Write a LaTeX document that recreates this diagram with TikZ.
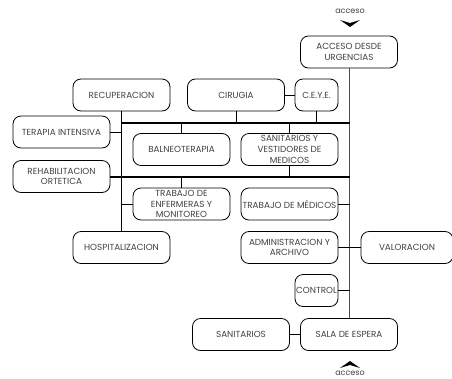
\documentclass[tikz,border=0pt]{standalone}
\usepackage{fontspec}
\setmainfont{Poppins}
\usepackage{tikz}

\tikzset{
    caja/.style={draw, rounded corners=8pt, minimum width=97pt, minimum height=32pt,
        align=center, inner sep=0pt, text=black!75,
        font=\fontsize{8.8}{10.8}\selectfont, line width=0.8pt},
    cajita/.style={caja, minimum width=43pt},
    fina/.style={line width=0.6pt},
    gruesa/.style={line width=1.2pt},
}

\begin{document}
\begin{tikzpicture}[x=1pt,y=-1pt]
        \useasboundingbox (0,0) rectangle (452,378);

        % 画出各个区域
        \node[caja] (urg) at (349,52) {ACCESO DESDE\\URGENCIAS};
        \node[caja] (recup) at (121.5,95) {RECUPERACION};
        \node[caja] (cirugia) at (236,95) {CIRUGIA};
        \node[cajita] (ceye) at (316.5,95) {C.E.Y.E.};
        \node[caja] (terapia) at (61.5,132) {TERAPIA INTENSIVA};
        \node[caja] (balneo) at (181.5,149.5) {BALNEOTERAPIA};
        \node[caja] (vestidores) at (289.5,149.5) {SANITARIOS Y\\VESTIDORES DE\\MEDICOS};
        \node[caja] (rehab) at (61.5,176.5) {REHABILITACION\\ORTETICA};
        \node[caja] (enfermeras) at (181.5,204) {TRABAJO DE\\ENFERMERAS Y\\MONITOREO};
        \node[caja] (medicos) at (289.5,204) {TRABAJO DE MÉDICOS};
        \node[caja] (hosp) at (121.5,247.5) {HOSPITALIZACION};
        \node[caja] (admin) at (289.5,247.5) {ADMINISTRACION Y\\ARCHIVO};
        \node[caja, minimum width=92pt] (valor) at (407,247.5) {VALORACION};
        \node[cajita] (control) at (316.5,290.5) {CONTROL};
        \node[caja] (sanit) at (241,334.5) {SANITARIOS};
        \node[caja] (sala) at (349,334.5) {SALA DE ESPERA};

        % 入口
        \node[text=black!75, font=\fontsize{8}{9}\selectfont] (accArriba) at (350,11) {acceso};
        \node[text=black!75, font=\fontsize{8}{9}\selectfont] (accAbajo) at (350,373) {acceso};
        \coordinate (flechaArriba) at (350,27);
        \coordinate (flechaAbajo) at (350,361);
        \fill (flechaArriba) -- ++(-10,-7) -- ++(10,3) -- ++(10,-3) -- cycle;
        \fill (flechaAbajo) -- ++(-10,7) -- ++(10,-3) -- ++(10,3) -- cycle;

        % 主通道
        \coordinate (b1) at (350,123);
        \coordinate (b2) at (350,177);
        \draw[fina, black!70] (urg.south) -- (sala.north);
        \draw[gruesa] (recup.south) -- (hosp.north);
        \draw[gruesa] (recup.south |- b1) -- (b1);
        \draw[gruesa] (rehab.east |- b2) -- (b2);

        % 连接线
        \draw[fina] (cirugia.south) -- (cirugia.south |- b1);
        \draw[fina] (ceye.south) -- (ceye.south |- b1);
        \draw[fina] (cirugia.east) -- (ceye.west);
        \draw[fina] (terapia.east) -- (recup.south |- terapia.east);
        \draw[fina] (balneo.north |- b1) -- (balneo.north);
        \draw[fina] (vestidores.north |- b1) -- (vestidores.north);
        \draw[fina] (vestidores.south) -- (vestidores.south |- b2);
        \draw[fina] (enfermeras.north |- b2) -- (enfermeras.north);
        \draw[fina] (enfermeras.west) -- (recup.south |- enfermeras.west);
        \draw[fina] (medicos.east) -- (b1 |- medicos.east);
        \draw[fina] (admin.east) -- (valor.west);
        \draw[fina] (control.east) -- (b1 |- control.east);
        \draw[fina] (sanit.east) -- (sala.west);

    \end{tikzpicture}
\end{document}
